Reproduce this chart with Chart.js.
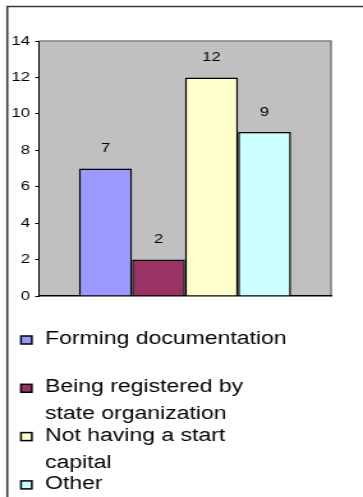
<!DOCTYPE html>
<html>
<head>
<meta charset="utf-8">
<script src="https://cdn.jsdelivr.net/npm/chart.js@4"></script>
<style>
  body { margin: 0; background: #fff; overflow: hidden; }
  /* the original picture is stretched sideways, so the whole canvas is too */
  #wrap { position: absolute; left: 0; top: 0; width: 284px; height: 497px;
          transform: scaleX(1.278); transform-origin: 0 0; }
</style>
</head>
<body>
<div id="wrap"><canvas id="myChart"></canvas></div>
<script>
const categories = [''];
const seriesLabels = ['Forming documentation', 'Being registered by state organization', 'Not having a start capital', 'Other'];
const seriesValues = [7, 2, 12, 9];
const seriesColors = ['#9999FF', '#993366', '#FFFFCC', '#CCFFFF'];
const yMin = 0;
const yMax = 14;
const yStep = 2;

const font = 'Arial, "Liberation Sans", sans-serif';

function wrapText(ctx, text, maxWidth) {
  const words = text.split(' ');
  const lines = [];
  let line = '';
  words.forEach(w => {
    const test = line ? line + ' ' + w : w;
    if (line && ctx.measureText(test).width > maxWidth) {
      lines.push(line);
      line = w;
    } else {
      line = test;
    }
  });
  lines.push(line);
  return lines;
}

const backgroundPlugin = {
  id: 'background',
  beforeDraw(chart) {
    const ctx = chart.ctx;
    const a = chart.chartArea;
    ctx.save();
    // outer frame (left and top edges only are visible)
    ctx.strokeStyle = '#3a3a3a';
    ctx.lineWidth = 1.6;
    ctx.beginPath();
    ctx.moveTo(5.7, chart.height);
    ctx.lineTo(5.7, 6.5);
    ctx.lineTo(chart.width, 6.5);
    ctx.stroke();
    // plot area
    ctx.fillStyle = '#C0C0C0';
    ctx.fillRect(a.left, a.top, a.right - a.left, a.bottom - a.top);
    ctx.strokeStyle = '#808080';
    ctx.lineWidth = 1.6;
    ctx.beginPath();
    ctx.moveTo(a.left, a.top);
    ctx.lineTo(a.right, a.top);
    ctx.lineTo(a.right, a.bottom);
    ctx.stroke();
    ctx.restore();
  }
};

const labelsPlugin = {
  id: 'labels',
  afterDraw(chart) {
    const ctx = chart.ctx;
    ctx.save();
    // value labels above the bars
    ctx.font = '13px ' + font;
    ctx.fillStyle = '#000';
    ctx.textAlign = 'center';
    ctx.textBaseline = 'middle';
    chart.data.datasets.forEach((ds, i) => {
      const bar = chart.getDatasetMeta(i).data[0];
      ctx.fillText(ds.data[0], bar.x, bar.y - 20);
    });

    // legend
    ctx.font = '18px ' + font;
    ctx.textAlign = 'left';
    chart.data.datasets.forEach((ds, i) => {
      const mid = 339 + i * 48.3;
      ctx.fillStyle = ds.backgroundColor;
      ctx.fillRect(16.4, mid - 3, 8.5, 8);
      ctx.strokeStyle = '#000';
      ctx.lineWidth = 1.5;
      ctx.strokeRect(16.4, mid - 3, 8.5, 8);
      ctx.fillStyle = '#000';
      const lines = wrapText(ctx, ds.label, 193);
      lines.forEach((l, j) => {
        ctx.fillText(l, 35.2, mid + j * 27);
      });
    });
    ctx.restore();
  }
};

const datasets = seriesLabels.map((label, i) => ({
  label: label,
  data: [seriesValues[i]],
  backgroundColor: seriesColors[i],
  borderColor: '#000',
  borderWidth: 1.5,
  categoryPercentage: 0.726,
  barPercentage: 1
}));

const ctx = document.getElementById('myChart').getContext('2d');
new Chart(ctx, {
  type: 'bar',
  data: {
    labels: categories,
    datasets: datasets
  },
  options: {
    responsive: true,
    maintainAspectRatio: false,
    animation: false,
    layout: {
      padding: { top: 41, bottom: 201, left: 0, right: 25 }
    },
    scales: {
      x: {
        ticks: { display: false },
        grid: { display: false, drawTicks: false },
        border: { display: true, color: '#000', width: 1.5 },
        afterFit(scale) { scale.height = 0; }
      },
      y: {
        min: yMin,
        max: yMax,
        ticks: {
          stepSize: yStep,
          color: '#000',
          padding: 4,
          font: { family: font, size: 13 }
        },
        grid: { drawOnChartArea: false, drawTicks: true, tickLength: 3, color: '#000' },
        border: { display: true, color: '#000', width: 1 },
        afterFit(scale) { scale.width = 30.5; }
      }
    },
    plugins: {
      legend: { display: false },
      tooltip: { enabled: false }
    }
  },
  plugins: [backgroundPlugin, labelsPlugin]
});
</script>
</body>
</html>
